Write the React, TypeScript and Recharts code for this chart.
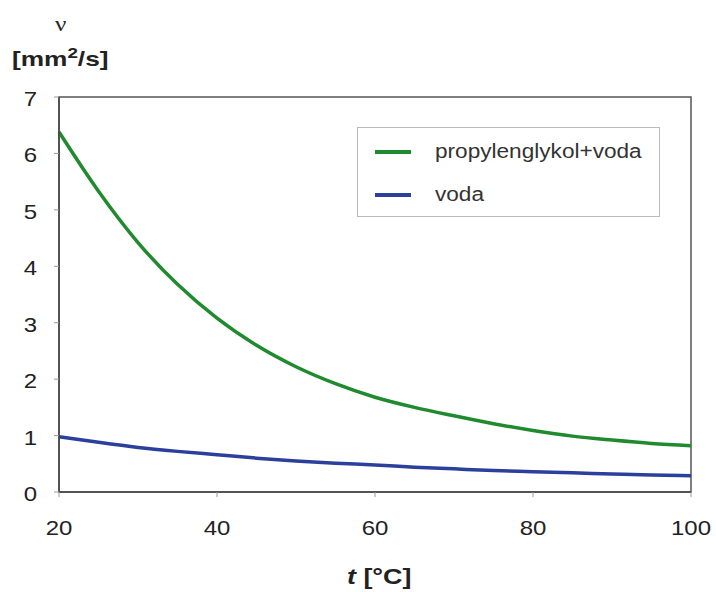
import React from "react";
import { LineChart, Line, XAxis, YAxis, ReferenceArea } from "recharts";

const temps = [20, 25, 30, 35, 40, 45, 50, 55, 60, 65, 70, 75, 80, 85, 90, 95, 100];
const glycolWater = [6.38, 5.33, 4.42, 3.68, 3.08, 2.6, 2.22, 1.92, 1.68, 1.5, 1.35, 1.21, 1.09, 0.99, 0.92, 0.86, 0.82];
const water = [0.98, 0.88, 0.79, 0.72, 0.66, 0.6, 0.55, 0.51, 0.48, 0.44, 0.41, 0.38, 0.36, 0.34, 0.32, 0.3, 0.29];
const xTicks = [20, 40, 60, 80, 100];
const yTicks = [0, 1, 2, 3, 4, 5, 6, 7];
const seriesNames = ["propylenglykol+voda", "voda"];

const data = temps.map((t, i) => ({ t, pg: glycolWater[i], w: water[i] }));

const GREEN = "#1f8a2e";
const BLUE = "#2b3f9c";
const colors = [GREEN, BLUE];
const FONT = "'Liberation Sans', Arial, sans-serif";

const XTick = (props: any) => {
  const { x, y, payload } = props;
  return (
    <g transform={`translate(${x},${y})`}>
      <text x={0} y={0} dy={38} textAnchor="middle" transform="scale(1.2,1)" fill="#222" fontSize={20} fontFamily={FONT}>
        {payload.value}
      </text>
    </g>
  );
};

const YTick = (props: any) => {
  const { x, y, payload } = props;
  return (
    <g transform={`translate(${x},${y})`}>
      <text x={0} y={0} dy={9} textAnchor="end" transform="scale(1.2,1)" fill="#222" fontSize={20} fontFamily={FONT}>
        {payload.value}
      </text>
    </g>
  );
};

export default function App() {
  return (
    <div style={{ position: "absolute", left: 0, top: 0, width: 716, height: 592, background: "#fff", fontFamily: FONT }}>
      <LineChart width={716} height={592} data={data} margin={{ top: 97, right: 25, bottom: 0, left: 0 }}>
        <XAxis
          dataKey="t"
          type="number"
          domain={[20, 100]}
          ticks={xTicks}
          height={100}
          axisLine={{ stroke: "#444", strokeWidth: 1.5 }}
          tickLine={{ stroke: "#999" }}
          tickSize={5}
          tickMargin={0}
          tick={<XTick />}
        />
        <YAxis
          type="number"
          domain={[0, 7]}
          ticks={yTicks}
          width={59}
          axisLine={{ stroke: "#444", strokeWidth: 1.5 }}
          tickLine={{ stroke: "#999" }}
          tickSize={5}
          tickMargin={17}
          tick={<YTick />}
        />
        <ReferenceArea x1={20} x2={100} y1={0} y2={7} fill="none" stroke="#555" strokeWidth={1.5} ifOverflow="visible" />
        <Line
          type="monotone"
          dataKey="pg"
          name={seriesNames[0]}
          stroke={GREEN}
          strokeWidth={3.5}
          dot={false}
          isAnimationActive={false}
        />
        <Line
          type="monotone"
          dataKey="w"
          name={seriesNames[1]}
          stroke={BLUE}
          strokeWidth={3.5}
          dot={false}
          isAnimationActive={false}
        />
      </LineChart>
      <div
        style={{
          position: "absolute",
          left: 357,
          top: 127,
          width: 303,
          height: 90,
          boxSizing: "border-box",
          border: "1px solid #bbb",
          background: "#fff",
          fontSize: 20,
          color: "#333",
          paddingTop: 2,
        }}
      >
        {seriesNames.map((n, i) => (
          <div key={n} style={{ display: "flex", alignItems: "center", height: 43 }}>
            <div style={{ width: 36, height: 4, background: colors[i], marginLeft: 17, marginRight: 24 }} />
            <span style={{ display: "inline-block", transform: "scaleX(1.13)", transformOrigin: "left center", whiteSpace: "nowrap" }}>{n}</span>
          </div>
        ))}
      </div>
      <div style={{ position: "absolute", left: 55, top: 12, fontSize: 21, color: "#222", fontFamily: "'Liberation Serif', serif", transform: "scaleX(1.2)", transformOrigin: "left top" }}>ν</div>
      <div style={{ position: "absolute", left: 12, top: 44, fontSize: 21, fontWeight: "bold", color: "#222", whiteSpace: "nowrap", transform: "scaleX(1.25)", transformOrigin: "left top" }}>
        [mm<sup style={{ fontSize: 15 }}>2</sup>/s]
      </div>
      <div style={{ position: "absolute", left: 347, top: 564, fontSize: 22, fontWeight: "bold", color: "#222", whiteSpace: "nowrap", transform: "scaleX(1.22)", transformOrigin: "left top" }}>
        <i>t</i> [°C]
      </div>
    </div>
  );
}
